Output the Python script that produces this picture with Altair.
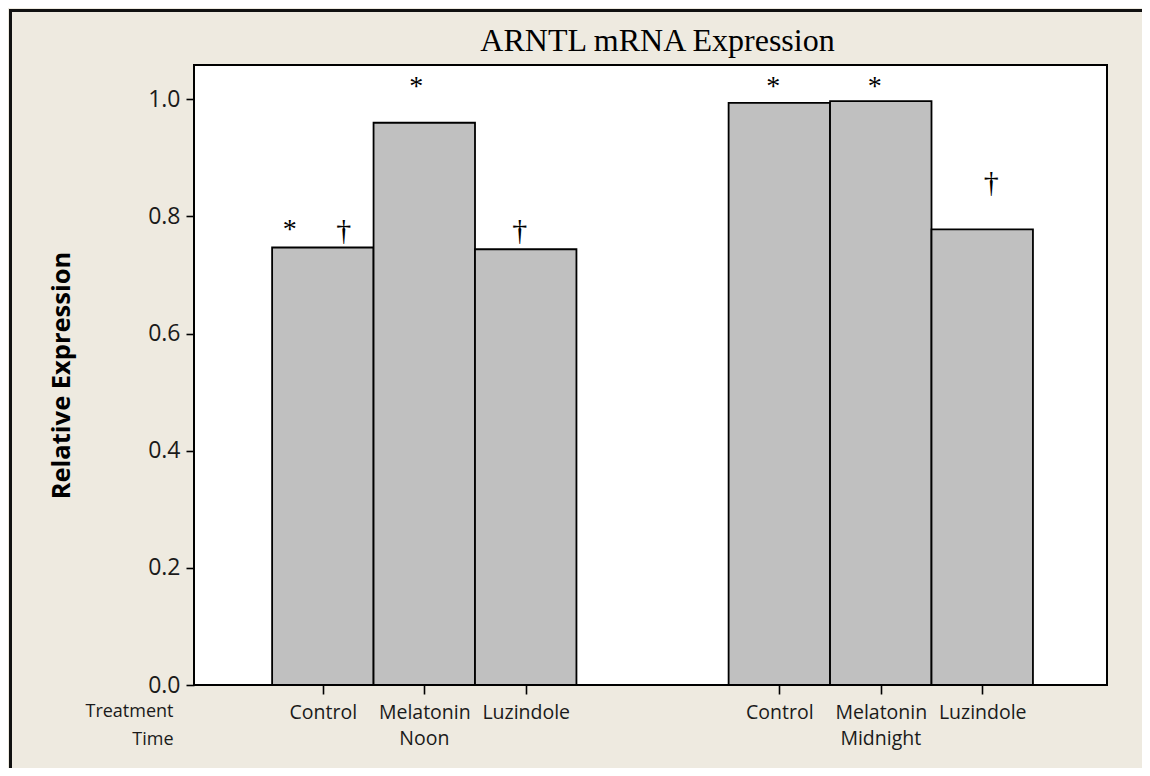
import altair as alt
import pandas as pd

# ---------------- data ----------------
treatments = ["Control", "Melatonin", "Luzindole"]
times = ["Noon", "Midnight"]
noon_expr = [0.747, 0.960, 0.744]
midnight_expr = [0.994, 0.997, 0.778]

ann_time = ["Noon", "Noon", "Noon", "Noon", "Midnight", "Midnight", "Midnight"]
ann_treatment = ["Control", "Control", "Melatonin", "Luzindole", "Control", "Melatonin", "Luzindole"]
ann_symbol = ["*", "\u2020", "*", "\u2020", "*", "*", "\u2020"]
ann_height = [0.785, 0.774, 1.030, 0.774, 1.030, 1.030, 0.855]

title_text = "ARNTL mRNA Expression"
y_title = "Relative Expression"
y_ticks = [0.0, 0.2, 0.4, 0.6, 0.8, 1.0]
x_row_titles = ["Treatment", "Time"]

# ---------------- layout / style ----------------
W, H = 913, 620
GROUP_GAP = 4.5
X_DOMAIN = [-1.27, 7.73]
UNIT_PX = W / (X_DOMAIN[1] - X_DOMAIN[0])
Y_DOMAIN = [0, 1.0586]
ann_shift_px = [-33, 21, -8, -6, -6, -6, 9]
BG = "#EEEAE0"
SANS = "Open Sans"
SERIF = "Liberation Serif"

rows = []
for gi, (t, vals) in enumerate(zip(times, [noon_expr, midnight_expr])):
    for ti, (tr, v) in enumerate(zip(treatments, vals)):
        pos = gi * GROUP_GAP + ti
        rows.append(dict(time=t, treatment=tr, value=v, pos=pos,
                         left=pos - 0.5, right=pos + 0.5))
bars_df = pd.DataFrame(rows)
pos_of = {(r["time"], r["treatment"]): r["pos"] for r in rows}

ann_rows = []
for t, tr, s, h, dx in zip(ann_time, ann_treatment, ann_symbol, ann_height, ann_shift_px):
    ann_rows.append(dict(symbol=s, height=h, xpos=pos_of[(t, tr)] + dx / UNIT_PX))
ann_df = pd.DataFrame(ann_rows)

time_df = pd.DataFrame([dict(time=t, pos=pos_of[(t, treatments[1])]) for t in times])

label_expr = ""
for r in rows:
    label_expr += f"datum.value == {r['pos']} ? '{r['treatment']}' : "
label_expr += "''"

xs = alt.Scale(domain=X_DOMAIN, nice=False, zero=False)
ys = alt.Scale(domain=Y_DOMAIN, nice=False, zero=True)

bars = alt.Chart(bars_df).mark_bar(
    fill="#C0C0C0", stroke="black", strokeWidth=1.8
).encode(
    x=alt.X("left:Q", scale=xs, axis=alt.Axis(
        values=[r["pos"] for r in rows], labelExpr=label_expr, title=None,
        grid=False, domain=False, ticks=True, tickSize=9, tickColor="black",
        tickWidth=1.6, labelFont=SANS, labelFontSize=19.5, labelColor="#1a1a1a",
        labelBaseline="alphabetic", labelPadding=24, labelAlign="center",
        labelFlush=False, labelOverlap=False)),
    x2="right:Q",
    y=alt.Y("value:Q", scale=ys, axis=alt.Axis(
        values=y_ticks, format=".1f", title=y_title, grid=False, domain=False,
        tickSize=8, tickColor="black", tickWidth=1.6, labelFont=SANS,
        labelFontSize=23, labelColor="#1a1a1a", labelPadding=6,
        titleFont=SANS, titleFontSize=25.5, titleFontWeight="bold",
        titleColor="black", titleAngle=270, titleX=-125, titleY=H / 2,
        titleBaseline="alphabetic", titleAlign="center")),
    y2=alt.datum(0),
)

stars = alt.Chart(ann_df).transform_filter(alt.datum.symbol == "*").mark_text(
    font=SERIF, fontSize=28, color="black", baseline="alphabetic", dy=13
).encode(x=alt.X("xpos:Q", scale=xs), y=alt.Y("height:Q", scale=ys), text="symbol:N")

daggers = alt.Chart(ann_df).transform_filter(alt.datum.symbol != "*").mark_text(
    font=SERIF, fontSize=30, color="black", baseline="alphabetic", dy=8
).encode(x=alt.X("xpos:Q", scale=xs), y=alt.Y("height:Q", scale=ys), text="symbol:N")

time_labels = alt.Chart(time_df).mark_text(
    font=SANS, fontSize=19.5, color="#1a1a1a", baseline="alphabetic", align="center"
).encode(x=alt.X("pos:Q", scale=xs), y=alt.value(H + 60), text="time:N")

one = alt.Data(values=[{}])
title_mark = alt.Chart(one).mark_text(
    text=title_text, font=SERIF, fontSize=32, color="black",
    baseline="alphabetic", align="center"
).encode(x=alt.value(W / 2 + 7), y=alt.value(-14))

row_title1 = alt.Chart(one).mark_text(
    text=x_row_titles[0], font=SANS, fontSize=18, color="#1a1a1a",
    baseline="alphabetic", align="right"
).encode(x=alt.value(-20.5), y=alt.value(H + 32.2))
row_title2 = alt.Chart(one).mark_text(
    text=x_row_titles[1], font=SANS, fontSize=18, color="#1a1a1a",
    baseline="alphabetic", align="right"
).encode(x=alt.value(-20.5), y=alt.value(H + 59.8))

border_left = alt.Chart(one).mark_rule(color="#111", strokeWidth=3).encode(
    x=alt.value(-183.5), y=alt.value(-54.5), y2=alt.value(H + 200))
border_top = alt.Chart(one).mark_rule(color="#111", strokeWidth=3).encode(
    x=alt.value(-185), x2=alt.value(W + 200), y=alt.value(-54.5))

chart = alt.layer(
    border_left, border_top, bars, stars, daggers, time_labels,
    title_mark, row_title1, row_title2
).properties(
    width=W, height=H,
    autosize=alt.AutoSizeParams(type="none"),
    padding={"left": 186, "top": 57, "right": 35, "bottom": 83},
    background=BG,
).configure_view(
    stroke="black", strokeWidth=2, fill="white"
)

chart.save("out.html", embed_options={"renderer": "svg", "actions": False})
